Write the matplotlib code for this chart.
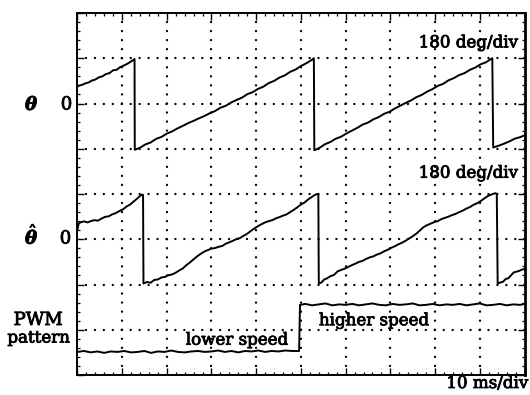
import numpy as np
import matplotlib
matplotlib.use('Agg')
import matplotlib.pyplot as plt
import matplotlib.patheffects as pe
from matplotlib.ticker import MultipleLocator

plt.rcParams['font.family'] = ['DejaVu Serif']
plt.rcParams['mathtext.fontset'] = 'dejavuserif'
plt.rcParams['lines.scale_dashes'] = False

# Measured rotor angle theta (ms, deg)
theta_t = [0, 0.2, 1, 1.8, 2.6, 3.2, 4, 4.8, 5.6, 6.4, 7.2, 8, 8.8, 9.6, 10.4,
           11.2, 12, 12.6, 12.8,
           12.85, 14, 15.2, 16.4, 17.6, 18.8, 20, 21.2, 22.4, 23.6, 24.8, 26,
           27.2, 28.4, 29.6, 30.8, 32, 33.2, 34.4, 35.6, 36.8, 38, 39.2, 40.4,
           41.6, 42.8, 44, 45.2, 46.4, 47.6, 48.8, 50, 51.2, 52.4, 52.9,
           53.0, 54.2, 55.4, 56.6, 57.8, 59, 60.2, 61.4, 62.6, 63.8, 65, 66.2,
           67.4, 68.6, 69.8, 71, 72.2, 73.4, 74.6, 75.8, 77, 78.2, 79.4, 80.6,
           81.8, 83, 84.2, 85.4, 86.6, 87.8, 89, 90.2, 91.4, 92.4, 92.8,
           93.0, 94.2, 95.4, 96.6, 97.8, 99, 100]
theta_deg = [66, 70, 74, 80, 84, 91, 95, 104, 108, 117, 121, 132, 134, 145, 151,
             158, 167, 174, 177,
             -184, -176, -163, -155, -141, -133, -120, -111, -99, -89, -78, -69,
             -59, -50, -39, -30, -17, -9, 4, 14, 23, 37, 45, 58,
             67, 81, 90, 103, 112, 126, 135, 149, 160, 173, 180,
             -186, -176, -162, -153, -140, -132, -119, -108, -97, -84, -76, -63,
             -54, -41, -33, -20, -9, 2, 12, 25, 34, 47, 57, 70,
             78, 92, 101, 113, 121, 134, 143, 156, 164, 176, 180,
             -175, -168, -160, -151, -140, -134, -127]

# Estimated rotor angle theta-hat (ms, deg)
thetahat_t = [0, 0.3, 0.8, 1.5, 2.3, 3.0, 3.8, 4.6, 5.4, 6.2, 7.0, 7.8, 8.6, 9.4,
              10.2, 11.0, 11.8, 12.6, 13.4, 14.0, 14.5, 14.7,
              14.8, 15.6, 16.4, 17.2, 18.0, 18.8, 19.6, 20.4, 21.2, 22.0, 22.8,
              23.6, 24.4, 25.2, 26.0, 26.8, 27.6, 28.4, 29.2, 30.0, 30.8, 31.6,
              32.4, 33.2, 34.0, 34.8, 35.6, 36.4, 37.2, 38.0, 38.8, 39.6, 40.4,
              41.2, 42.0, 42.8, 43.6, 44.4, 45.2, 46.0, 46.8, 47.6, 48.4, 49.2,
              50.0, 50.8, 51.6, 52.4, 53.0, 53.6, 53.9,
              54.0, 54.6, 55.2, 55.8, 56.6, 57.4, 58.2, 59.0, 59.8, 60.6, 61.4,
              62.2, 63.0, 63.8, 64.6, 65.4, 66.2, 67.0, 67.8, 68.6, 69.4, 70.2,
              71.0, 71.8, 72.6, 73.4, 74.2, 75.0, 75.8, 76.6, 77.4, 78.2, 79.0,
              79.8, 80.6, 81.4, 82.2, 83.0, 83.8, 84.6, 85.4, 86.2, 87.0, 87.8,
              88.6, 89.4, 90.2, 91.0, 91.8, 92.6, 93.4, 93.8,
              94.0, 94.6, 95.2, 95.8, 96.4, 97.0, 97.6, 98.2, 98.8, 99.4, 100]
thetahat_deg = [36, 62, 68, 71, 67, 72, 76, 74, 82, 89, 91, 99, 104, 112,
                119, 130, 138, 150, 162, 172, 178, 176,
                -176, -170, -173, -162, -160, -152, -150, -143, -140, -133, -124,
                -116, -103, -92, -80, -68, -58, -49, -43, -37, -35, -30,
                -27, -18, -12, -6, 1, 5, 14, 22, 33, 43, 52,
                60, 67, 72, 76, 83, 88, 94, 99, 108, 117, 127,
                138, 146, 158, 168, 175, 180, 178,
                -176, -172, -160, -156, -147, -142, -128, -122, -117, -110, -103,
                -97, -90, -86, -78, -72, -68, -61, -56, -48, -42, -34,
                -28, -20, -14, -6, 3, 12, 22, 35, 48, 56, 62,
                68, 72, 80, 85, 90, 96, 101, 108, 114, 122, 128,
                137, 143, 152, 162, 172, 178, 183, 181,
                -176, -172, -169, -158, -155, -143, -132, -129, -126, -121, -118]

# PWM pattern: 0 = lower speed, 1 = higher speed
pwm_t = [0, 1.5, 3, 4.5, 6, 7.5, 9, 10.5, 12, 13.5, 15, 16.5, 18, 19.5, 21,
         22.5, 24, 25.5, 27, 28.5, 30, 31.5, 33, 34.5, 36, 37.5, 39, 40.5,
         42, 43.5, 45, 46.5, 48, 49.6,
         49.8, 51, 52.5, 54, 55.5, 57, 58.5, 60, 61.5, 63, 64.5, 66, 67.5, 69,
         70.5, 72, 73.5, 75, 76.5, 78, 79.5, 81, 82.5, 84, 85.5, 87, 88.5, 90,
         91.5, 93, 94.5, 96, 97.5, 99, 100]
pwm_level = [0.0, 0.02, -0.01, 0.01, -0.02, 0.01, 0.0, 0.02, -0.01, 0.0, 0.02,
             -0.02, 0.01, 0.0, 0.03, 0.0, -0.01, 0.01, 0.02, 0.0, 0.01, 0.03,
             0.0, 0.02, -0.01, 0.02, 0.01, 0.03, 0.0, 0.02, 0.01, 0.03, 0.02, 0.02,
             1.0, 1.02, 0.99, 1.01, 1.03, 0.99, 1.01, 1.0, 1.02, 0.99, 1.01,
             1.03, 1.0, 0.99, 1.02, 1.0, 1.01, 1.03, 0.99, 1.0, 1.02, 0.99,
             1.01, 1.0, 1.02, 0.99, 1.01, 1.03, 0.99, 1.0, 1.02, 0.99, 1.01,
             1.0, 1.02]

# screen layout (divisions from the bottom)
THETA_ZERO = 6
THETAHAT_ZERO = 3
DEG_PER_DIV = 180
PWM_BASE = 0.51
PWM_SPAN = 1.04

W, H = 5.30, 3.95
fig = plt.figure(figsize=(W, H), dpi=100)
pos = [77.3 / 530, 20 / 395, 447.2 / 530, 362 / 395]
ax = fig.add_axes(pos)

ax.set_xlim(0, 100)
ax.set_ylim(0, 8)

# dotted graticule, a dot every 1/5 division
vper = H * 72 * pos[3] / 40
hper = W * 72 * pos[2] / 50
for xg in range(10, 100, 10):
    ax.axvline(xg, color='black', linewidth=1.7, linestyle=(0, (0.05, vper - 0.05)),
               dash_capstyle='round', zorder=1)
for yg in range(1, 8):
    ax.axhline(yg, color='black', linewidth=1.7, linestyle=(0, (0.05, hper - 0.05)),
               dash_capstyle='round', zorder=1)

th = THETA_ZERO + np.array(theta_deg) / DEG_PER_DIV
thh = THETAHAT_ZERO + np.array(thetahat_deg) / DEG_PER_DIV
pw = PWM_BASE + PWM_SPAN * np.array(pwm_level)

for xs, ys in [(theta_t, th), (thetahat_t, thh), (pwm_t, pw)]:
    ax.plot(xs, ys, color='black', linewidth=1.4, zorder=3)

ax.xaxis.set_major_locator(MultipleLocator(10))
ax.xaxis.set_minor_locator(MultipleLocator(2))
ax.yaxis.set_major_locator(MultipleLocator(1))
ax.yaxis.set_minor_locator(MultipleLocator(0.2))
ax.tick_params(which='both', direction='in', top=True, right=True,
               labelbottom=False, labelleft=False, color='black')
ax.tick_params(which='major', length=5, width=1.0)
ax.tick_params(which='minor', length=2.5, width=0.9)
for s in ax.spines.values():
    s.set_linewidth(1.4)
ax.spines['right'].set_linewidth(2.0)

fs = 12
heavy = [pe.withStroke(linewidth=0.6, foreground='black')]
ax.text(98.5, 7.34, '180 deg/div', ha='right', va='center', fontsize=fs, path_effects=heavy)
ax.text(98.5, 4.46, '180 deg/div', ha='right', va='center', fontsize=fs, path_effects=heavy)
ax.text(35.7, 0.77, 'lower speed', ha='center', va='center', fontsize=fs, path_effects=heavy)
ax.text(66.3, 1.2, 'higher speed', ha='center', va='center', fontsize=fs, path_effects=heavy)

fig.text(528 / 530, (395 - 383.5) / 395, '10 ms/div', ha='right', va='center',
         fontsize=fs, path_effects=heavy)
fig.text(32 / 530, (395 - 105) / 395, r'$\boldsymbol{\theta}$', ha='center', va='center',
         fontsize=fs + 1, path_effects=heavy)
fig.text(66.5 / 530, (395 - 104.5) / 395, '0', ha='center', va='center',
         fontsize=fs + 1, path_effects=heavy)
fig.text(32 / 530, (395 - 236) / 395, r'$\hat{\boldsymbol{\theta}}$', ha='center', va='center',
         fontsize=fs + 1, path_effects=heavy)
fig.text(65.5 / 530, (395 - 238.5) / 395, '0', ha='center', va='center',
         fontsize=fs + 1, path_effects=heavy)
fig.text(38 / 530, (395 - 320) / 395, 'PWM', ha='center', va='center',
         fontsize=fs + 1, path_effects=heavy)
fig.text(38.5 / 530, (395 - 338) / 395, 'pattern', ha='center', va='center',
         fontsize=fs, path_effects=heavy)

fig.savefig('out.png', dpi=100)
